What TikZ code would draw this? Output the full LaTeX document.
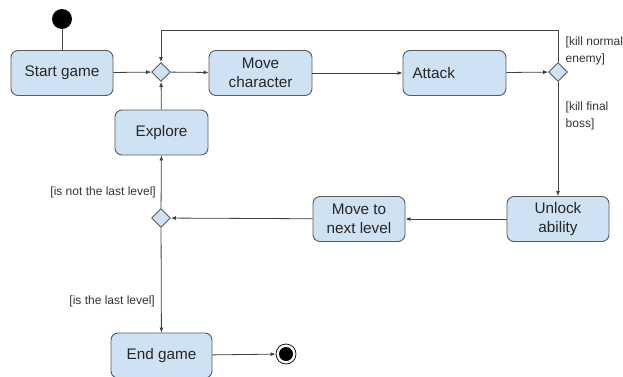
\documentclass[tikz,border=0pt]{standalone}
\usepackage{fontspec}
\setmainfont{Liberation Sans}
\usetikzlibrary{shapes.geometric,arrows.meta}
\definecolor{boxfill}{HTML}{CFE2F3}
\definecolor{boxline}{HTML}{595959}
\definecolor{wire}{HTML}{404040}
\tikzset{
  act/.style={draw=boxline, fill=boxfill, line width=0.9pt, rounded corners=7pt,
    minimum width=102pt, minimum height=45pt, align=center, inner sep=2pt,
    font=\fontsize{15.3}{18.5}\selectfont, text=black!85},
  dec/.style={draw=boxline, fill=boxfill, line width=0.9pt, diamond, minimum width=19pt,
    minimum height=19pt, inner sep=0pt},
  flow/.style={draw=wire, line width=0.8pt, -{Latex[length=5pt,width=4pt]}},
  plain/.style={draw=wire, line width=0.8pt},
  guard/.style={font=\fontsize{12}{16.5}\selectfont, text=black!80, align=left, inner sep=0pt}
}
\begin{document}
\begin{tikzpicture}[x=1pt,y=-1pt]
\useasboundingbox (0,0) rectangle (623,377);
\node[circle, fill=black, minimum size=20pt, inner sep=0pt] (init) at (62,19) {};
\node[act] (start) at (62,73) {Start game};
\node[dec] (d1) at (161,72) {};
\node[act, minimum width=103pt] (move) at (260.5,73) {Move\\character};
\node[act, minimum width=103pt, text width=84pt, align=left] (attack) at (454.5,73) {Attack};
\node[dec] (d2) at (558,72) {};
\node[act, minimum width=93pt] (explore) at (161.5,132.5) {Explore};
\node[act] (unlock) at (558,219) {Unlock\\ability};
\node[act, minimum width=92pt] (next) at (359,219) {Move to\\next level};
\node[dec] (d3) at (161,218) {};
\node[act, minimum width=101pt] (end) at (161.5,355.5) {End game};
\node[circle, draw=black, fill=white, line width=0.7pt, minimum size=20pt, inner sep=0pt] (fin) at (286,354) {};
\node[circle, fill=black, minimum size=14pt, inner sep=0pt] (finin) at (fin.center) {};
\coordinate (tl) at (161,30);
\coordinate (tr) at (558,30);

\draw[plain] (init) -- (start);
\draw[flow] (start) -- (d1);
\draw[flow] (d1) -- (move);
\draw[flow] (move) -- (attack);
\draw[flow] (attack) -- (d2);
\draw[flow] (d2.north) -- (tr) -- (tl) -- (d1.north);
\draw[flow] (explore) -- (d1);
\draw[flow] (d2.south) -- (unlock);
\draw[flow] (unlock) -- (next);
\draw[flow] (next) -- (d3);
\draw[flow] (d3) -- (explore);
\draw[flow] (d3) -- (end);
\draw[flow] (end) -- (fin);

\node[guard, anchor=north west] (g1) at (565.5,37) {[kill normal\\enemy]};
\node[guard, anchor=north west] (g2) at (565.5,102) {[kill final\\boss]};
\node[guard, anchor=east] (g3) at (156,192) {[is not the last level]};
\node[guard, anchor=east] (g4) at (155,301) {[is the last level]};
\end{tikzpicture}
\end{document}
